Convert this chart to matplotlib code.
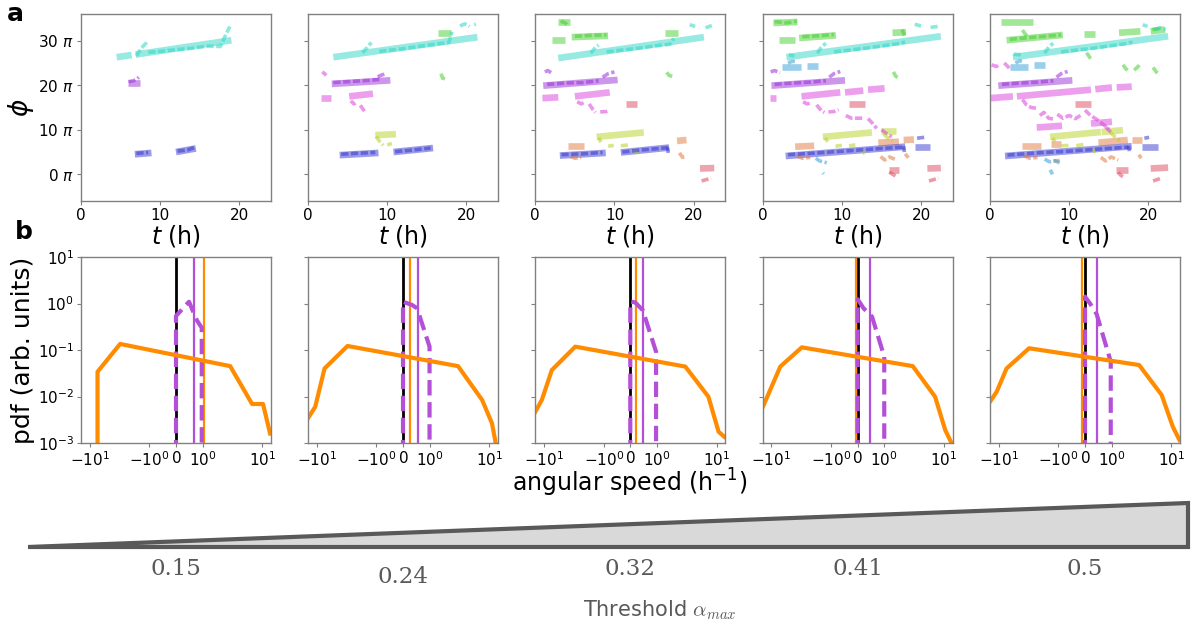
import numpy as np
import matplotlib
matplotlib.use("Agg")
import matplotlib.pyplot as plt
from matplotlib.patches import Polygon

# thresholds alpha_max, one per column
thresholds = ["0.15", "0.24", "0.32", "0.41", "0.5"]

# trajectory colours
C = {'red': '#dc4a5e', 'org': '#e07a40', 'ylg': '#b8d226', 'grn': '#46cf30',
     'cyn': '#30d6c4', 'lbl': '#35a0d6', 'blu': '#3838d0', 'pur': '#9a30d6',
     'mag': '#db40db'}

# ---- panel a : fitted segments (colour, t0, t1, phi0, phi1), phi in units of pi
fits1 = [('cyn', 4.5, 6.4, 26.3, 26.8), ('cyn', 6.9, 19.0, 26.9, 30.1),
         ('pur', 5.9, 7.4, 20.6, 20.6), ('blu', 6.8, 8.9, 4.5, 4.8),
         ('blu', 12.0, 14.5, 5.0, 5.8)]
fits2 = [('cyn', 3.2, 21.4, 26.3, 30.8), ('grn', 16.4, 18.1, 31.8, 31.8),
         ('pur', 3.0, 10.4, 20.3, 21.1), ('mag', 1.6, 2.9, 17.2, 17.2),
         ('mag', 5.2, 8.2, 17.5, 18.1), ('ylg', 8.5, 11.1, 8.8, 9.0),
         ('blu', 4.0, 8.9, 4.3, 4.8), ('blu', 10.8, 15.8, 5.0, 5.9)]
fits3 = [('grn', 2.9, 4.4, 34.2, 34.2), ('grn', 2.1, 3.75, 30.2, 30.2),
         ('grn', 4.6, 9.2, 30.8, 31.1), ('grn', 16.4, 18.0, 31.8, 31.8),
         ('cyn', 2.9, 21.3, 26.1, 30.8), ('pur', 1.0, 10.4, 19.9, 21.2),
         ('mag', 0.9, 2.9, 17.1, 17.3), ('mag', 5.0, 9.4, 17.5, 18.4),
         ('red', 11.4, 12.9, 15.7, 15.7), ('red', 20.8, 22.6, 1.3, 1.4),
         ('ylg', 7.75, 13.7, 8.4, 9.4), ('org', 4.1, 6.2, 6.3, 6.3),
         ('org', 17.9, 19.1, 7.5, 7.7), ('blu', 3.1, 8.9, 4.2, 4.8),
         ('blu', 10.8, 16.9, 4.9, 6.0)]
fits4 = [('grn', 1.35, 4.4, 34.0, 34.2), ('grn', 2.1, 4.1, 30.2, 30.2),
         ('grn', 4.6, 9.25, 30.6, 31.2), ('grn', 16.4, 18.1, 31.8, 31.9),
         ('cyn', 3.0, 22.5, 26.3, 31.0), ('lbl', 2.4, 4.8, 24.2, 24.2),
         ('lbl', 5.6, 7.0, 24.4, 24.4), ('pur', 1.1, 10.4, 19.9, 21.1),
         ('mag', 0.9, 1.7, 17.1, 17.1), ('mag', 4.9, 9.8, 17.5, 18.4),
         ('mag', 10.4, 12.7, 18.4, 18.8), ('mag', 13.3, 15.4, 19.0, 19.3),
         ('red', 10.9, 12.9, 15.8, 15.8), ('red', 15.9, 17.2, 0.9, 0.9),
         ('red', 20.8, 22.5, 1.3, 1.4), ('ylg', 7.6, 13.8, 8.4, 9.4),
         ('ylg', 15.0, 16.9, 9.7, 9.7), ('org', 4.1, 6.5, 6.2, 6.4),
         ('org', 14.6, 17.2, 7.1, 7.3), ('org', 17.8, 19.1, 7.7, 7.8),
         ('blu', 2.9, 18.0, 4.1, 6.2), ('blu', 19.2, 21.1, 6.2, 6.2)]
fits5 = [('grn', 1.4, 5.4, 34.2, 34.2), ('grn', 2.1, 9.2, 30.1, 31.3),
         ('grn', 11.9, 13.2, 31.5, 31.5), ('grn', 16.3, 19.0, 31.8, 32.1),
         ('grn', 20.3, 22.1, 32.1, 32.5), ('cyn', 2.9, 22.5, 26.3, 31.0),
         ('lbl', 2.5, 4.8, 24.2, 24.2), ('lbl', 5.6, 6.9, 24.6, 24.6),
         ('pur', 1.05, 10.4, 19.9, 21.1), ('mag', 0.1, 2.9, 17.1, 17.5),
         ('mag', 3.4, 12.75, 17.5, 19.0), ('mag', 13.3, 15.4, 19.1, 19.5),
         ('mag', 16.0, 17.9, 19.5, 19.7), ('mag', 5.9, 9.1, 10.5, 10.9),
         ('mag', 12.75, 15.4, 11.4, 11.8), ('red', 10.7, 12.8, 15.7, 15.7),
         ('red', 15.9, 17.4, 0.9, 0.9), ('red', 20.3, 22.5, 1.3, 1.5),
         ('ylg', 7.6, 14.0, 8.4, 9.5), ('ylg', 14.1, 16.8, 9.5, 9.9),
         ('org', 4.0, 6.4, 6.3, 6.3), ('org', 7.7, 9.0, 6.7, 6.7),
         ('org', 13.7, 17.4, 7.1, 7.7), ('org', 17.9, 19.2, 7.8, 7.8),
         ('blu', 1.9, 17.9, 4.1, 6.3), ('blu', 19.2, 21.25, 6.2, 6.2)]

# ---- panel a : raw tracked points (colour, t list, phi list)
raw1 = [('cyn', [7.0, 7.6, 8.3], [26.6, 28.3, 29.6]),
        ('cyn', [8.5, 10, 12, 14, 16, 17.6, 18.2, 18.8], [27.4, 27.6, 28.0, 28.3, 28.8, 28.7, 31.0, 33.2]),
        ('pur', [6.0, 6.6, 7.0, 7.3], [20.8, 21.0, 21.3, 21.8]),
        ('blu', [7.0, 8.5], [4.7, 4.9]),
        ('blu', [12.2, 13.5, 14.3], [5.2, 5.5, 6.0])]
raw2 = [('cyn', [6.9, 7.5, 8.0], [27.3, 28.5, 29.6]),
        ('cyn', [9.0, 10, 12, 14, 16, 17.8, 18.2], [27.6, 27.8, 28.2, 28.7, 29.2, 29.6, 32.0]),
        ('cyn', [19.2, 19.8, 20.4], [33.3, 33.8, 33.2]),
        ('cyn', [21.0, 21.2], [33.6, 33.7]),
        ('grn', [16.8, 17.0, 17.4], [22.6, 21.6, 21.4]),
        ('pur', [3.2, 5, 7, 9], [20.6, 20.8, 21.0, 21.3]),
        ('pur', [8.8, 9.3, 9.7], [21.9, 22.3, 22.5]),
        ('mag', [1.8, 2.1, 2.3], [23.0, 22.6, 22.2]),
        ('mag', [5.4, 5.8, 6.0], [16.5, 15.8, 16.0]),
        ('mag', [6.6, 7.0, 7.3], [15.5, 14.5, 13.8]),
        ('ylg', [8.6, 9.0, 9.5], [8.5, 7.5, 6.5]),
        ('ylg', [10.0, 10.6], [6.6, 6.9]),
        ('blu', [4.2, 6, 8.5], [4.5, 4.7, 4.9]),
        ('blu', [11, 13, 15.5], [5.1, 5.4, 5.9])]
raw3 = [('grn', [3.2, 3.8, 4.1], [34.4, 34.0, 33.3]),
        ('grn', [5, 7, 9], [31.0, 31.2, 31.3]),
        ('grn', [16.6, 16.9, 17.3], [22.9, 22.2, 22.0]),
        ('cyn', [7.0, 7.6, 8.0], [27.2, 28.5, 29.0]),
        ('cyn', [9, 11, 13, 15, 17, 17.5], [27.5, 27.9, 28.3, 28.8, 29.2, 30.5]),
        ('cyn', [19.5, 20.2], [33.6, 33.2]),
        ('cyn', [21.5, 22.3], [32.9, 33.4]),
        ('pur', [1.2, 1.6, 2.0], [23.0, 23.3, 22.8]),
        ('pur', [1.5, 4, 6, 8], [20.2, 20.5, 20.6, 21.0]),
        ('pur', [8.5, 9.2, 10], [21.8, 22.6, 23.0]),
        ('mag', [5.3, 5.8, 6.1], [16.3, 15.8, 16.1]),
        ('mag', [6.8, 7.3, 7.6], [15.8, 14.5, 13.9]),
        ('mag', [8.2, 9.0, 9.4], [14.0, 14.1, 14.3]),
        ('red', [21.0, 21.6, 22.2], [-1.5, -1.2, -0.8]),
        ('ylg', [8.0, 8.3], [8.2, 7.2]),
        ('ylg', [9.2, 9.9], [6.3, 6.5]),
        ('ylg', [10.8, 11.8], [6.4, 6.6]),
        ('ylg', [12.5, 12.9], [5.4, 4.6]),
        ('org', [4.5, 5.0, 5.8], [4.0, 3.6, 3.8]),
        ('org', [18.2, 18.6, 19.0], [4.8, 3.8, 3.9]),
        ('blu', [3.3, 6, 8.5], [4.4, 4.6, 4.9]),
        ('blu', [11, 13, 15, 16.8], [5.0, 5.4, 5.7, 6.0]),
        ('blu', [16.7, 16.8], [6.0, 4.8])]
raw4 = [('grn', [1.5, 3, 4.3], [34.3, 34.0, 34.4]),
        ('grn', [5, 7, 9], [30.9, 31.1, 31.4]),
        ('grn', [16.5, 16.8, 17.3], [23.0, 22.0, 21.6]),
        ('grn', [17.6, 17.9], [32.5, 31.2]),
        ('cyn', [3.3, 4.0], [26.8, 26.6]),
        ('cyn', [6.9, 7.5, 8.0], [27.2, 28.8, 29.4]),
        ('cyn', [9, 11, 13, 15, 17, 18], [27.5, 27.9, 28.3, 28.8, 29.3, 29.7]),
        ('cyn', [19.2, 20.0], [33.7, 33.3]),
        ('cyn', [21.2, 22.1], [33.0, 33.2]),
        ('lbl', [3.2, 3.8, 4.3], [25.0, 25.4, 25.2]),
        ('pur', [1.0, 1.5, 2.2], [23.0, 23.3, 22.8]),
        ('pur', [1.5, 4, 6, 8], [20.2, 20.5, 20.7, 21.0]),
        ('pur', [8.4, 9.0, 9.8], [21.8, 22.6, 23.1]),
        ('mag', [5.1, 5.6, 6.0], [16.3, 15.8, 16.0]),
        ('mag', [6.8, 7.4, 7.8], [15.6, 14.3, 13.9]),
        ('mag', [8.3, 9.0, 9.6], [14.0, 14.1, 14.5]),
        ('mag', [10.5, 11.2, 12.6], [13.2, 12.6, 12.6]),
        ('mag', [13.3, 13.9, 14.4], [12.5, 11.4, 10.3]),
        ('mag', [15.0, 15.6, 16.3], [10.0, 9.2, 8.4]),
        ('red', [16.0, 16.4, 16.8], [0.5, 0.0, -0.4]),
        ('red', [21.0, 21.6, 22.2], [-1.5, -1.2, -0.8]),
        ('ylg', [7.9, 8.2], [8.2, 7.3]),
        ('ylg', [9.2, 10.0], [6.3, 6.5]),
        ('ylg', [10.9, 11.7], [6.4, 6.6]),
        ('ylg', [12.5, 12.9], [5.4, 4.6]),
        ('ylg', [15.3, 15.9, 16.4], [9.0, 8.0, 7.5]),
        ('org', [4.3, 5.0, 6.0], [4.1, 3.6, 3.8]),
        ('org', [14.9, 15.4, 16.0, 16.8], [4.0, 3.2, 3.9, 3.3]),
        ('org', [18.0, 18.4], [4.6, 3.7]),
        ('blu', [3.2, 7, 11, 15, 17.8], [4.4, 4.8, 5.3, 5.8, 6.1]),
        ('blu', [17.8, 17.9], [6.3, 5.0]),
        ('blu', [19.5, 20.4], [8.1, 8.3]),
        ('lbl', [6.7, 7.2, 7.6, 8.1], [3.6, 3.0, 2.8, 2.6]),
        ('lbl', [7.6, 7.7], [0.3, 0.1])]
raw5 = [('grn', [4.1, 4.4, 4.7], [32.4, 31.6, 31.1]),
        ('grn', [2.5, 5, 7, 9], [30.3, 30.7, 31.0, 31.3]),
        ('grn', [12.2, 12.5, 12.8], [27.3, 26.5, 25.8]),
        ('grn', [16.8, 17.1, 17.5], [24.6, 23.8, 23.2]),
        ('grn', [18.2, 18.6, 18.9], [23.4, 24.0, 24.6]),
        ('grn', [20.6, 21.0, 21.4], [24.0, 23.0, 22.3]),
        ('grn', [20.5, 21.5], [32.5, 32.8]),
        ('cyn', [3.0, 4.0], [27.0, 26.8]),
        ('cyn', [6.9, 7.5, 8.0], [27.2, 28.8, 29.4]),
        ('cyn', [9, 11, 13, 15, 17, 18], [27.5, 27.9, 28.3, 28.8, 29.3, 29.7]),
        ('cyn', [19.3, 19.9], [33.6, 33.2]),
        ('cyn', [20.8, 21.5, 22.2], [32.4, 32.9, 32.5]),
        ('lbl', [3.2, 3.8, 4.3], [25.0, 25.5, 25.2]),
        ('mag', [0.2, 0.8, 1.3], [24.6, 24.2, 24.8]),
        ('mag', [1.8, 2.2, 2.5], [25.0, 24.3, 23.7]),
        ('pur', [1.5, 4, 6, 8], [20.2, 20.5, 20.7, 21.0]),
        ('pur', [8.4, 9.0, 9.8], [21.8, 22.6, 23.1]),
        ('mag', [4.1, 4.6, 5.2, 6.0], [16.8, 15.6, 15.0, 14.8]),
        ('mag', [6.3, 6.8, 7.4, 8.0], [13.2, 13.9, 12.6, 12.4]),
        ('mag', [8.5, 9.2, 10, 10.8, 11.6], [13.5, 12.6, 13.2, 12.5, 13.4]),
        ('mag', [12.0, 12.7, 13.5, 14.3, 15.0], [14.4, 13.2, 12.3, 11.2, 10.2]),
        ('mag', [14.6, 15.3], [10.6, 9.4]),
        ('red', [16.2, 16.5, 16.8], [0.4, -0.2, -0.5]),
        ('red', [20.6, 21.1, 21.6], [-1.5, -1.2, -0.9]),
        ('ylg', [7.9, 8.2], [8.2, 7.3]),
        ('ylg', [9.0, 10.0], [6.4, 6.5]),
        ('ylg', [10.9, 11.8], [6.4, 6.7]),
        ('ylg', [13.0, 13.3], [5.6, 4.8]),
        ('ylg', [15.2, 15.8, 16.4], [9.4, 8.4, 7.6]),
        ('org', [4.3, 5.0, 6.0], [4.2, 3.6, 3.8]),
        ('org', [8.0, 8.8], [3.0, 3.1]),
        ('org', [14.0, 14.6, 15.3, 16.2], [3.8, 3.0, 3.9, 3.2]),
        ('org', [18.8, 19.1], [4.4, 3.6]),
        ('blu', [2.2, 6, 10, 14, 17.5], [4.3, 4.8, 5.2, 5.7, 6.1]),
        ('blu', [17.5, 17.6], [6.4, 5.2]),
        ('blu', [19.5, 20.1], [8.1, 8.3]),
        ('lbl', [6.9, 7.5, 8.2, 8.8], [3.4, 2.8, 3.0, 2.6]),
        ('lbl', [7.6, 7.9], [1.0, 0.0])]

# ---- panel b : angular speed pdfs
orange_x = [[-7.4, -7.4, -3.1, 2.9, 6.75, 10.3, 13.5],
            [-14, -10.6, -7.4, -3.05, 3.0, 7.6, 11.1, 13.0],
            [-14, -10.9, -7.4, -3.0, 3.0, 7.3, 10.8, 13.4],
            [-13.9, -7.1, -3.1, 3.0, 7.1, 10.5, 13.9],
            [-14, -10.8, -7.4, -3.1, 2.9, 6.9, 10.6, 13.7]]
orange_y = [[0, 0.034, 0.135, 0.045, 0.0069, 0.0069, 0.0016],
            [0.0034, 0.006, 0.040, 0.122, 0.045, 0.0084, 0.00265, 0.0009],
            [0.0047, 0.0084, 0.037, 0.118, 0.044, 0.0099, 0.00175, 0.00137],
            [0.006, 0.044, 0.114, 0.045, 0.0099, 0.0019, 0.0009],
            [0.0077, 0.0127, 0.040, 0.109, 0.0475, 0.0108, 0.00225, 0.00116]]
purple_x = [[0, 0, 0.49, 0.78, 0.97, 0.97],
            [0, 0, 0.34, 0.53, 1.0, 1.0],
            [0, 0, 0.18, 0.47, 0.97, 0.97],
            [0, 0, 0.22, 0.54, 1.0, 1.0],
            [0, 0, 0.19, 0.44, 0.97, 0.97]]
purple_y = [[0, 0.54, 1.09, 0.44, 0.30, 0],
            [0, 1.09, 0.93, 0.79, 0.118, 0],
            [0, 1.09, 1.06, 0.72, 0.092, 0],
            [0, 1.23, 0.79, 0.52, 0.072, 0],
            [0, 1.4, 1.0, 0.59, 0.056, 0]]
purple_mean = [0.68, 0.55, 0.49, 0.45, 0.44]
orange_mean = [1.06, 0.275, 0.22, -0.07, -0.13]

fits_all = [fits1, fits2, fits3, fits4, fits5]
raw_all = [raw1, raw2, raw3, raw4, raw5]

W, H = 1191, 631
fig = plt.figure(figsize=(W / 100, H / 100), dpi=100)

lefts = [81, 308, 535.3, 762.7, 990]
aw = 190
spine_col = '#808080'

top_axes, bot_axes = [], []
for i in range(5):
    axa = fig.add_axes([lefts[i] / W, 1 - 201 / H, aw / W, 187 / H])
    axb = fig.add_axes([lefts[i] / W, 1 - 443 / H, aw / W, 186 / H])
    top_axes.append(axa)
    bot_axes.append(axb)

for i, ax in enumerate(top_axes):
    for col, t0, t1, p0, p1 in fits_all[i]:
        ax.plot([t0, t1], [p0, p1], color=C[col], lw=4.8, alpha=0.5,
                solid_capstyle='butt')
    for col, ts, ps in raw_all[i]:
        ax.plot(ts, ps, color=C[col], lw=2.6, alpha=0.55, ls=(0, (2.0, 0.7)))
    ax.set_xlim(0, 24)
    ax.set_ylim(-6, 36)
    ax.set_xticks([0, 10, 20])
    ax.set_yticks([0, 10, 20, 30])
    if i == 0:
        ax.set_yticklabels([f"{v} $\\pi$" for v in [0, 10, 20, 30]])
        ax.set_ylabel(r"$\phi$", fontsize=19, labelpad=2)
    else:
        ax.set_yticklabels([])
    ax.set_xlabel(r"$t$ (h)", fontsize=17, labelpad=0)

for i, ax in enumerate(bot_axes):
    ax.set_xscale('symlog', linthresh=1, linscale=0.4)
    ax.set_yscale('log')
    ax.axvline(0, color='black', lw=2)
    ax.axvline(purple_mean[i], color='#b450d8', lw=1.6)
    ax.axvline(orange_mean[i], color='#ff8c00', lw=1.6)
    ax.plot(purple_x[i], purple_y[i], color='#b450d8', lw=3, ls='--')
    ax.plot(orange_x[i], orange_y[i], color='#ff8c00', lw=3)
    ax.set_xlim(-14, 14)
    ax.set_ylim(1e-3, 10)
    ax.set_xticks([-10, -1, 0, 1, 10])
    ax.xaxis.set_minor_locator(matplotlib.ticker.NullLocator())
    ax.yaxis.set_minor_locator(matplotlib.ticker.NullLocator())
    ax.set_yticks([1e-3, 1e-2, 1e-1, 1, 10])
    if i == 0:
        ax.set_ylabel("pdf (arb. units)", fontsize=18, labelpad=2)
    else:
        ax.set_yticklabels([])

for ax in top_axes + bot_axes:
    for sp in ax.spines.values():
        sp.set_color(spine_col)
        sp.set_linewidth(1)
    ax.tick_params(length=3, width=0.8, color=spine_col, labelsize=11, pad=2)

fig.text(630 / W, 1 - 483 / H, "angular speed (h$^{-1}$)", ha='center',
         va='center', fontsize=17)
fig.text(15 / W, 1 - 14 / H, "a", fontsize=18, fontweight='bold',
         ha='center', va='center')
fig.text(24 / W, 1 - 232 / H, "b", fontsize=18, fontweight='bold',
         ha='center', va='center')

# threshold wedge
wedge = Polygon([(28 / W, 1 - 547 / H), (1188 / W, 1 - 503 / H),
                 (1188 / W, 1 - 547 / H)], closed=True, transform=fig.transFigure,
                facecolor='#d9d9d9', edgecolor='#595959', lw=3)
fig.patches.append(wedge)
label_dy = [0, 8, 0, 0, 0]
for i, th in enumerate(thresholds):
    fig.text((lefts[i] + aw / 2) / W, 1 - (569 + label_dy[i]) / H, th,
             ha='center', va='center', fontsize=16.5, family='DejaVu Serif',
             color='#595959')
fig.text(660 / W, 1 - 610 / H, r"Threshold $\alpha_{max}$", ha='center',
         va='center', fontsize=15, color='#595959', math_fontfamily='cm')

fig.savefig("out.png", dpi=100)
